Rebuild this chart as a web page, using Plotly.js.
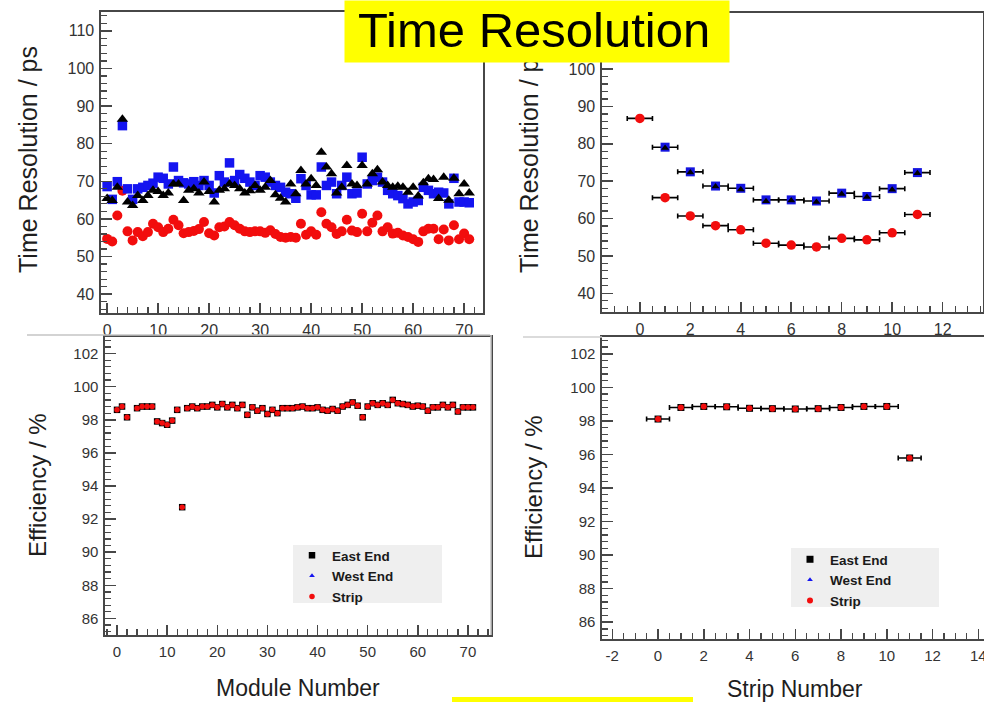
<!DOCTYPE html>
<html><head><meta charset="utf-8">
<script src="https://cdn.plot.ly/plotly-3.0.1.min.js"></script>
<style>html,body{margin:0;padding:0;background:#fff}#chart{width:984px;height:702px}</style>
</head><body><div id="chart"></div>
<script>
// ---------- data ----------
const modules = [0,1,2,3,4,5,6,7,8,9,10,11,12,13,14,15,16,17,18,19,20,21,22,23,24,25,26,27,28,29,30,31,32,33,34,35,36,37,38,39,40,41,42,43,44,45,46,47,48,49,50,51,52,53,54,55,56,57,58,59,60,61,62,63,64,65,66,67,68,69,70,71];
const moduleResBlue = [68.6,65.2,69.9,84.8,68.0,65.2,68.0,68.4,68.9,69.5,
 71.1,70.8,69.3,73.8,70.2,69.6,69.3,69.9,68.9,70.2,
 68.9,66.9,71.5,69.8,74.9,70.2,71.8,70.8,69.8,68.9,
 71.5,71.1,69.8,68.9,68.4,67.1,66.7,65.5,70.7,68.9,
 66.4,66.4,73.8,68.9,69.8,66.7,68.9,71.1,66.7,66.9,
 76.4,69.3,70.2,71.1,69.8,67.6,66.7,66.2,65.4,64.0,
 64.5,64.9,68.4,67.6,66.7,67.1,66.9,64.0,70.8,64.5,
 64.5,64.3];
const moduleResBlack = [65.4,64.9,68.4,86.5,64.5,63.6,66.2,64.9,66.2,67.6,
 67.3,66.2,66.9,69.3,69.3,64.9,67.6,68.0,66.9,69.8,
 67.3,64.5,67.6,68.0,69.3,68.9,68.0,66.9,67.5,68.9,
 67.6,68.4,70.2,66.4,65.5,64.5,69.3,66.7,72.9,69.3,
 70.7,68.9,77.7,73.8,72.0,66.9,68.4,74.2,69.3,68.9,
 74.2,69.3,72.0,73.1,69.8,68.9,68.4,68.7,68.4,67.1,
 68.4,66.1,69.6,70.7,70.5,65.4,71.1,65.0,70.8,66.7,
 69.3,66.9];
const moduleResStrip = [54.7,54.0,60.9,67.5,56.7,54.3,56.5,55.4,56.5,58.7,
 57.8,56.5,57.4,59.8,58.3,56.2,56.5,56.8,57.3,59.2,
 56.2,55.6,57.8,58.0,59.2,58.3,57.4,56.7,56.5,56.7,
 56.7,56.3,57.0,56.0,55.2,55.0,55.2,55.0,58.7,55.8,
 56.7,55.8,61.8,58.7,57.8,56.0,56.7,59.8,56.9,56.5,
 61.4,56.7,59.0,60.9,56.7,57.8,56.1,56.3,55.6,55.2,
 54.6,53.9,56.7,57.4,57.4,54.6,57.2,54.3,58.3,54.6,
 56.1,54.6];
const moduleEff = [98.6,98.8,98.15,null,98.7,98.8,98.8,98.8,97.9,97.8,
 97.7,97.95,98.6,92.72,98.7,98.8,98.7,98.8,98.8,98.9,
 98.75,98.95,98.75,98.9,98.7,98.9,98.3,98.75,98.55,98.7,
 98.35,98.6,98.4,98.7,98.7,98.7,98.75,98.8,98.7,98.7,
 98.75,98.6,98.55,98.65,98.55,98.8,98.9,99.05,98.85,98.15,
 98.8,99.0,98.9,99.0,98.9,99.2,99.0,98.95,98.9,98.8,
 98.85,98.8,98.55,98.75,98.75,98.9,98.75,98.9,98.5,98.75,
 98.75,98.75];
const stripsAll = [0,1,2,3,4,5,6,7,8,9,10,11];
const stripsEnds = [1,2,3,4,5,6,7,8,9,10,11];
const stripResBlue = [79.1,72.5,68.7,68.1,65.0,65.0,64.7,66.8,65.9,68.0,72.3];
const stripResBlack = [78.9,72.3,68.6,67.8,64.6,64.8,64.4,66.6,65.8,67.7,72.1];
const stripResStrip = [86.8,65.6,60.7,58.1,57.0,53.4,52.9,52.4,54.7,54.3,56.2,61.1];
const stripEff = [98.11,98.8,98.86,98.84,98.75,98.73,98.71,98.73,98.8,98.86,98.86,95.79];
const stripTickVals = [-2,0,2,4,6,8,10,12,14];
const stripTickText = ['-2','0','2','4','6','8','10','12','14'];
const legendNames = ['East End','West End','Strip'];
const titleText = 'Time Resolution';
const yTitleRes = 'Time Resolution / ps';
const yTitleEff = 'Efficiency / %';
const xTitleModule = 'Module Number';
const xTitleStrip = 'Strip Number';

// ---------- helpers ----------
const W = 984, H = 702;
const F = '"Liberation Sans", Arial, Helvetica, sans-serif';
const fx = p => p / W;
const fy = p => 1 - p / H;
const LC = '#474747';

function axis(o, fs, minorD, major) {
  return Object.assign({
    showline: true, mirror: true, linecolor: LC, linewidth: 1.6,
    ticks: 'inside', ticklen: major || 11, tickwidth: 1.5, tickcolor: LC,
    showgrid: false, zeroline: false, fixedrange: true,
    ticklabeloverflow: 'allow', ticklabelstandoff: 2,
    tickfont: {family: F, size: fs, color: '#333'},
    minor: {ticks: 'inside', ticklen: 6, tickwidth: 1.2, tickcolor: LC, dtick: minorD, showgrid: false}
  }, o);
}

const errBar = {type: 'constant', value: 0.5, color: '#000', thickness: 1.6, width: 2.5};

const traces = [
  // top-left
  {x: modules, y: moduleResStrip, xaxis: 'x', yaxis: 'y', mode: 'markers', showlegend: false,
   marker: {symbol: 'circle', size: 10, color: '#f20d0d'}},
  {x: modules, y: moduleResBlue, xaxis: 'x', yaxis: 'y', mode: 'markers', showlegend: false,
   marker: {symbol: 'square', size: 9.5, color: '#1414f0'}},
  {x: modules, y: moduleResBlack, xaxis: 'x', yaxis: 'y', mode: 'markers', showlegend: false,
   marker: {symbol: 'triangle-up', size: 10, color: '#000'}},
  // top-right
  {x: stripsAll, y: stripResStrip, xaxis: 'x2', yaxis: 'y2', mode: 'markers', showlegend: false,
   error_x: errBar, marker: {symbol: 'circle', size: 9.5, color: '#f20d0d'}},
  {x: stripsEnds, y: stripResBlue, xaxis: 'x2', yaxis: 'y2', mode: 'markers', showlegend: false,
   error_x: errBar, marker: {symbol: 'square', size: 9, color: '#1414e0'}},
  {x: stripsEnds, y: stripResBlack, xaxis: 'x2', yaxis: 'y2', mode: 'markers', showlegend: false,
   marker: {symbol: 'triangle-up', size: 7, color: '#000'}},
  // bottom-left
  {x: modules, y: moduleEff, xaxis: 'x3', yaxis: 'y3', mode: 'markers', name: legendNames[1], legend: 'legend', legendrank: 2,
   marker: {symbol: 'triangle-up', size: 5, color: '#1414f0'}},
  {x: modules, y: moduleEff, xaxis: 'x3', yaxis: 'y3', mode: 'markers', name: legendNames[0], legend: 'legend', legendrank: 1,
   marker: {symbol: 'square', size: 6.5, color: '#000'}},
  {x: modules, y: moduleEff, xaxis: 'x3', yaxis: 'y3', mode: 'markers', name: legendNames[2], legend: 'legend', legendrank: 3,
   marker: {symbol: 'circle', size: 5.5, color: '#f20d0d'}},
  // bottom-right
  {x: stripsAll, y: stripEff, xaxis: 'x4', yaxis: 'y4', mode: 'markers', name: legendNames[1], legend: 'legend2', legendrank: 2,
   marker: {symbol: 'triangle-up', size: 5, color: '#1414f0'}},
  {x: stripsAll, y: stripEff, xaxis: 'x4', yaxis: 'y4', mode: 'markers', name: legendNames[0], legend: 'legend2', legendrank: 1,
   error_x: errBar, marker: {symbol: 'square', size: 7, color: '#000'}},
  {x: stripsAll, y: stripEff, xaxis: 'x4', yaxis: 'y4', mode: 'markers', name: legendNames[2], legend: 'legend2', legendrank: 3,
   marker: {symbol: 'circle', size: 6, color: '#f20d0d'}}
];

function leg(px, py) {
  return {x: fx(px), y: fy(py), xanchor: 'left', yanchor: 'top', bgcolor: 'rgba(0,0,0,0)', borderwidth: 0,
    font: {family: F, size: 13.5, color: '#1a1a1a', weight: 'bold'}, itemclick: false, itemdoubleclick: false, tracegroupgap: 0};
}
function ann(text, px, py, size, angle) {
  return {text: text, xref: 'paper', yref: 'paper', x: fx(px), y: fy(py), xanchor: 'center', yanchor: 'middle',
    showarrow: false, textangle: angle || 0, font: {family: F, size: size, color: '#1e1e1e'}};
}
function line(x0, y0, x1, y1, c) {
  return {type: 'line', xref: 'paper', yref: 'paper', x0: fx(x0), y0: fy(y0), x1: fx(x1), y1: fy(y1), line: {color: c, width: 1.5}, layer: 'above'};
}
function box(x0, y0, x1, y1, c, layer) {
  return {type: 'rect', xref: 'paper', yref: 'paper', x0: fx(x0), y0: fy(y0), x1: fx(x1), y1: fy(y1), fillcolor: c, line: {width: 0}, layer: layer};
}

const layout = {
  width: W, height: H, margin: {l: 0, r: 0, t: 0, b: 0},
  paper_bgcolor: '#fff', plot_bgcolor: '#fff', showlegend: true,
  xaxis: axis({domain: [fx(101), fx(483)], range: [-1.2, 73.7], dtick: 10, tick0: 0, anchor: 'y'}, 16, 2, 10),
  yaxis: axis({domain: [fy(313), fy(12)], range: [35, 115], dtick: 10, tick0: 0, anchor: 'x'}, 16, 2),
  xaxis2: axis({domain: [fx(602), fx(983)], range: [-1.5, 13.6], tickmode: 'array', tickvals: stripTickVals, ticktext: stripTickText, anchor: 'y2'}, 16, 0.5, 10),
  yaxis2: axis({domain: [fy(312), fy(13)], range: [35, 115], dtick: 10, tick0: 0, anchor: 'x2'}, 16, 2),
  xaxis3: axis({domain: [fx(105), fx(491)], range: [-2.4, 74.6], dtick: 10, tick0: 0, anchor: 'y3'}, 15, 2, 10),
  yaxis3: axis({domain: [fy(635), fy(337)], range: [85, 103], dtick: 2, tick0: 0, anchor: 'x3'}, 15, 0.4),
  xaxis4: axis({domain: [fx(602), 1], range: [-2.45, 14.25], tickmode: 'array', tickvals: stripTickVals, ticktext: stripTickText, anchor: 'y4'}, 15, 0.5, 10),
  yaxis4: axis({domain: [fy(639), fy(337)], range: [85, 103], dtick: 2, tick0: 0, anchor: 'x4', mirror: false}, 15, 0.4),
  legend: leg(292, 540),
  legend2: leg(790, 544),
  shapes: [
    box(293, 545, 442, 603, '#efefef', 'below'),
    box(791, 548, 939, 607, '#efefef', 'below'),
    line(27, 335, 490, 335, '#c4c4c4'),
    line(491, 335, 491, 635, '#c4c4c4'),
    line(523, 337, 602, 337, '#cfcfcf'),
    box(452, 697, 693, 702, '#ffff00', 'above')
  ],
  annotations: [
    ann(yTitleRes, 28, 160, 25, -90),
    ann(yTitleRes, 529, 160, 25, -90),
    ann(yTitleEff, 38, 485, 24, -90),
    ann(yTitleEff, 533, 487, 24, -90),
    ann(xTitleModule, 298, 688, 23, 0),
    ann(xTitleStrip, 795, 689, 23, 0),
    {text: '&nbsp;', xref: 'paper', yref: 'paper', x: fx(537), y: 1, xanchor: 'center', yanchor: 'top',
     showarrow: false, width: 384, height: 61, borderpad: 0, bgcolor: '#ffff00', align: 'left', valign: 'bottom',
     font: {family: F, size: 6, color: '#ffff00'}},
    {text: titleText, xref: 'paper', yref: 'paper', x: fx(534), y: fy(30), xanchor: 'center', yanchor: 'middle',
     showarrow: false, font: {family: F, size: 49, color: '#000'}}
  ]
};

Plotly.newPlot('chart', traces, layout, {displayModeBar: false, staticPlot: true});
</script>
</body></html>
